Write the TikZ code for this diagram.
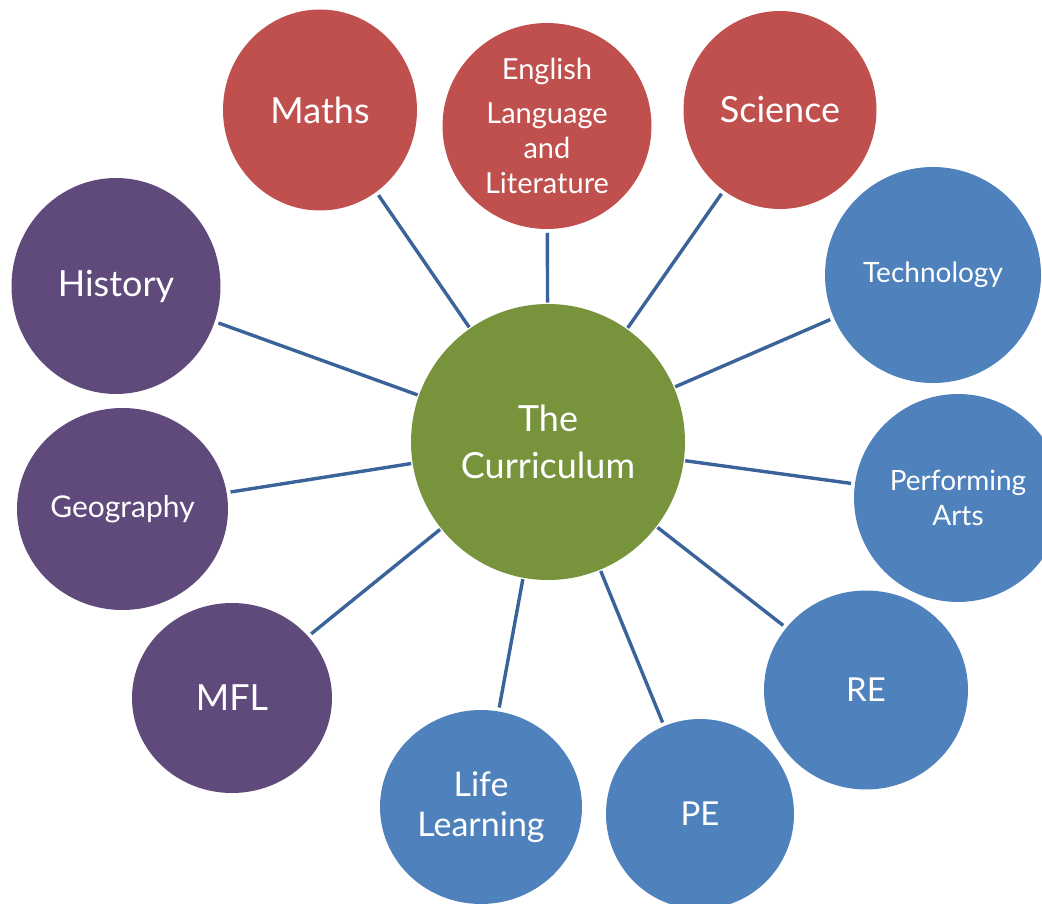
\documentclass[tikz,border=0pt]{standalone}
\usepackage{fontspec}
\setmainfont{Lato}
\usetikzlibrary{shapes.geometric}
\definecolor{redc}{HTML}{C0504D}
\definecolor{bluec}{HTML}{4F81BD}
\definecolor{purplec}{HTML}{604A7B}
\definecolor{greenc}{HTML}{77933C}
\definecolor{linec}{HTML}{3A6399}
\tikzset{
  bubble/.style={ellipse, inner sep=0pt, outer sep=4pt, text=white, align=center},
  redb/.style={bubble, fill=redc},
  blueb/.style={bubble, fill=bluec},
  purpleb/.style={bubble, fill=purplec},
  hub/.style={ellipse, inner sep=0pt, outer sep=1.5pt, fill=greenc, text=white, align=center},
  spoke/.style={draw=linec, line width=3.4pt}
}
\newcommand{\fs}[1]{\fontsize{#1}{#1}\selectfont}
\begin{document}
\begin{tikzpicture}[x=1pt,y=-1pt]
\useasboundingbox (0,0) rectangle (1042,904);
\clip (0,0) rectangle (1042,904);
% hub
\node[hub, minimum width=274pt, minimum height=276pt, font={\fontsize{36}{47}\selectfont}] (cur) at (548,442) {The\\Curriculum};
% red
\node[redb, minimum width=194pt, minimum height=201pt, font=\fs{36}] (maths) at (320,110) {Maths};
\node[redb, minimum width=209pt, minimum height=206pt, font={\fontsize{29}{35}\selectfont}] (eng) at (547,126) {English\\[9pt]Language\\and\\Literature};
\node[redb, minimum width=193pt, minimum height=198pt, font=\fs{36}] (sci) at (780,110) {Science};
% blue
\node[blueb, minimum width=216pt, minimum height=216pt, font=\fs{28}] (tech) at (933,275) {Technology};
\node[blueb, minimum width=208pt, minimum height=208pt, font={\fontsize{28}{35}\selectfont}] (perf) at (958,498) {Performing\\Arts};
\node[blueb, minimum width=204pt, minimum height=199pt, font=\fs{33}] (re) at (866,690) {RE};
\node[blueb, minimum width=188pt, minimum height=190pt, font=\fs{33}] (pe) at (700,814) {PE};
\node[blueb, minimum width=202pt, minimum height=194pt, font={\fontsize{34}{40}\selectfont}] (life) at (481,807) {Life\\Learning};
% purple
\node[purpleb, minimum width=200pt, minimum height=190pt, font=\fs{36}] (mfl) at (232,698) {MFL};
\node[purpleb, minimum width=211pt, minimum height=202pt, font=\fs{30}] (geo) at (122.5,509) {Geography};
\node[purpleb, minimum width=209pt, minimum height=216pt, font=\fs{36}] (hist) at (116,286) {History};
% spokes
\foreach \n in {maths,eng,sci,tech,perf,re,pe,life,mfl,geo,hist}
  \draw[spoke] (cur) -- (\n);
\end{tikzpicture}
\end{document}
